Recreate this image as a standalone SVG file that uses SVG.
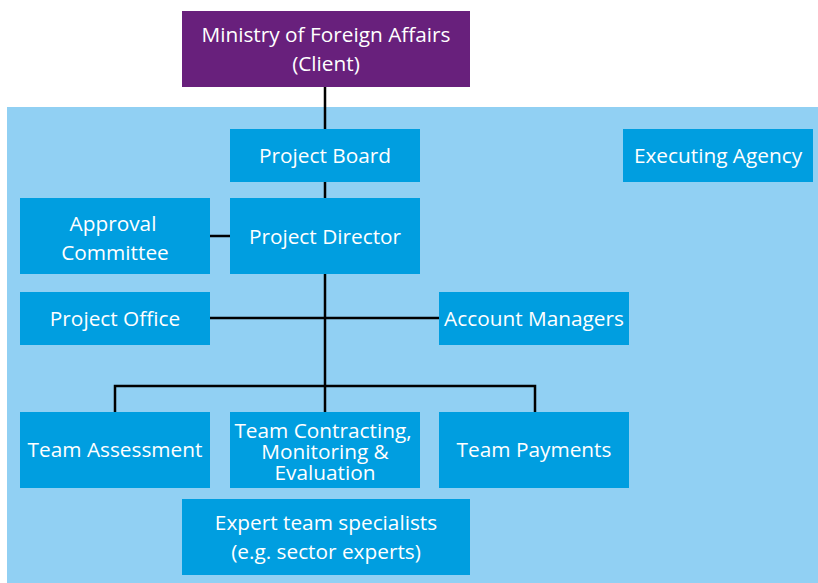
<svg xmlns="http://www.w3.org/2000/svg" width="818" height="583" viewBox="0 0 818 583">
<style>
.box{fill:#009ee0}
.t{font-family:"Open Sans","Noto Sans",sans-serif;font-size:20.8px;fill:#ffffff;text-anchor:middle}
.ln{stroke:#000;stroke-width:2.5;fill:none}
</style>
<rect x="0" y="0" width="818" height="583" fill="#ffffff"/>
<rect id="background" x="7" y="107" width="811" height="476" fill="#91d0f3"/>
<g id="connectors">
<path class="ln" d="M325 87 V412"/>
<path class="ln" d="M210 236 H230"/>
<path class="ln" d="M210 318 H439"/>
<path class="ln" d="M115 412 V386 H535 V412"/>
</g>
<g id="client">
<rect x="182" y="11" width="288" height="76" fill="#68207c"/>
<text class="t" x="326" y="42">Ministry of Foreign Affairs</text>
<text class="t" x="326" y="71">(Client)</text>
</g>
<g id="project-board">
<rect class="box" x="230" y="129" width="190" height="53"/>
<text class="t" x="325" y="163">Project Board</text>
</g>
<g id="executing-agency">
<rect class="box" x="623" y="129" width="190" height="53"/>
<text class="t" x="718" y="163">Executing Agency</text>
</g>
<g id="approval-committee">
<rect class="box" x="20" y="198" width="190" height="76"/>
<text class="t" x="113" y="231">Approval</text>
<text class="t" x="115" y="260">Committee</text>
</g>
<g id="project-director">
<rect class="box" x="230" y="198" width="190" height="76"/>
<text class="t" x="325" y="244">Project Director</text>
</g>
<g id="project-office">
<rect class="box" x="20" y="292" width="190" height="53"/>
<text class="t" x="115" y="326">Project Office</text>
</g>
<g id="account-managers">
<rect class="box" x="439" y="292" width="190" height="53"/>
<text class="t" x="534" y="326">Account Managers</text>
</g>
<g id="team-assessment">
<rect class="box" x="20" y="412" width="190" height="76"/>
<text class="t" x="115" y="457">Team Assessment</text>
</g>
<g id="team-contracting">
<rect class="box" x="230" y="412" width="190" height="76"/>
<text class="t" x="323" y="438">Team Contracting,</text>
<text class="t" x="325" y="459">Monitoring &amp;</text>
<text class="t" x="325" y="480">Evaluation</text>
</g>
<g id="team-payments">
<rect class="box" x="439" y="412" width="190" height="76"/>
<text class="t" x="534" y="457">Team Payments</text>
</g>
<g id="expert-team">
<rect class="box" x="182" y="499" width="288" height="76"/>
<text class="t" x="326" y="530">Expert team specialists</text>
<text class="t" x="326" y="559">(e.g. sector experts)</text>
</g>
</svg>
